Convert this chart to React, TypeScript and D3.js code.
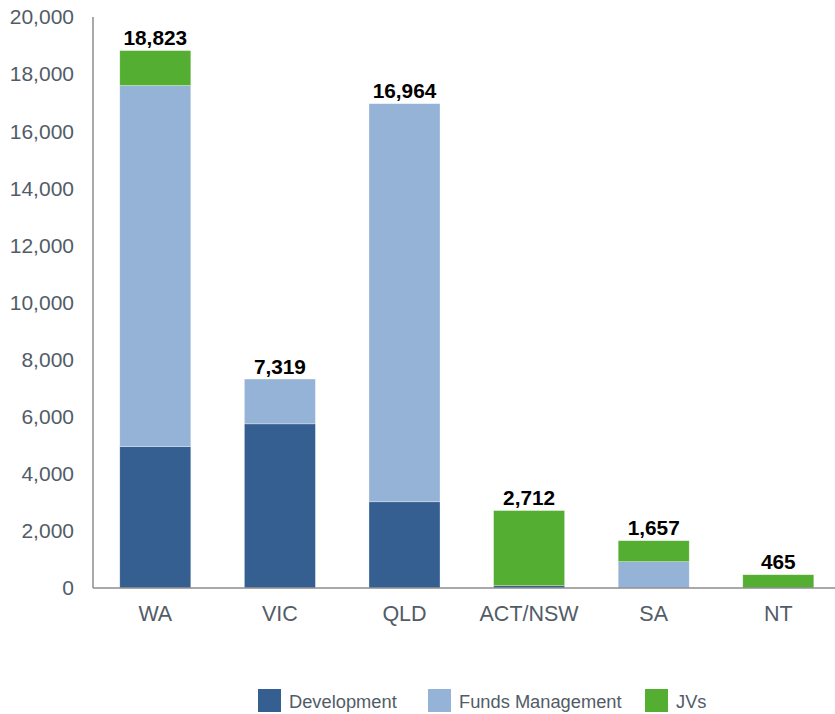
import React from 'react';
import * as d3 from 'd3';

const categories = ['WA', 'VIC', 'QLD', 'ACT/NSW', 'SA', 'NT'];
const development = [4950, 5750, 3020, 80, 0, 0];
const fundsManagement = [12650, 1569, 13944, 0, 921, 0];
const jvs = [1223, 0, 0, 2632, 736, 465];
const totals = [18823, 7319, 16964, 2712, 1657, 465];
const yTicks = [0, 2000, 4000, 6000, 8000, 10000, 12000, 14000, 16000, 18000, 20000];
const seriesNames = ['Development', 'Funds Management', 'JVs'];
const seriesColors = ['#355F91', '#95B3D7', '#54AE31'];

export default function App() {
  const W = 835, H = 714;
  const x = d3.scaleBand<string>().domain(categories).range([93, 840.6]).paddingInner(0.43).paddingOuter(0.215);
  const y = d3.scaleLinear().domain([0, 20000]).range([588, 17]);
  const fmt = d3.format(',');
  const rows = categories.map((c, i) => ({ cat: c, Development: development[i], 'Funds Management': fundsManagement[i], JVs: jvs[i] }));
  const stack = d3.stack<any>().keys(seriesNames)(rows);
  const textColor = '#525C67';
  const font = 'Liberation Sans, Arial, sans-serif';
  const legendX = [258, 428, 645];
  return (
    <svg width={W} height={H} style={{ position: 'absolute', left: 0, top: 0 }} fontFamily={font}>
      {stack.map((s, si) => (
        <g key={si} fill={seriesColors[si]}>
          {s.map((d, i) => {
            const h = y(d[0]) - y(d[1]);
            if (h <= 0) return null;
            return <rect key={i} x={x(categories[i])} y={y(d[1])} width={x.bandwidth()} height={h} stroke="#ffffff" strokeOpacity={0.5} strokeWidth={0.6} />;
          })}
        </g>
      ))}
      <line x1={93} x2={93} y1={17} y2={588} stroke="#8C8C8C" strokeWidth={1.5} />
      <line x1={93} x2={835} y1={588} y2={588} stroke="#8C8C8C" strokeWidth={1.5} />
      {yTicks.map((t) => (
        <text key={t} x={74} y={y(t)} dy="0.35em" textAnchor="end" fontSize={21} fill={textColor}>{fmt(t)}</text>
      ))}
      {categories.map((c) => (
        <text key={c} x={(x(c) as number) + x.bandwidth() / 2} y={620.5} textAnchor="middle" fontSize={21.5} fill={textColor}>{c}</text>
      ))}
      {categories.map((c, i) => (
        <text key={c} x={(x(c) as number) + x.bandwidth() / 2} y={y(totals[i]) - 5.5} textAnchor="middle" fontSize={20.8} fontWeight="bold" fill="#000">{fmt(totals[i])}</text>
      ))}
      {seriesNames.map((n, i) => (
        <g key={n}>
          <rect x={legendX[i]} y={689} width={23} height={23} fill={seriesColors[i]} />
          <text x={legendX[i] + 31} y={708} fontSize={18.3} fill={textColor}>{n}</text>
        </g>
      ))}
    </svg>
  );
}
